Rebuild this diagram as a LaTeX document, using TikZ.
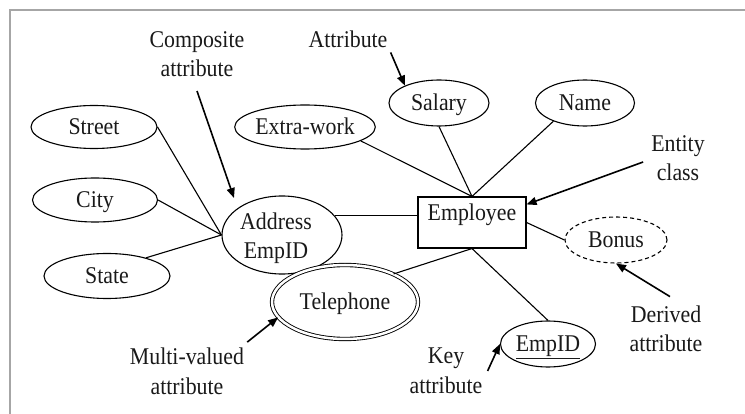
\documentclass[tikz,border=0pt]{standalone}
\usepackage{fontspec}
\setmainfont{Liberation Serif}[FakeStretch=0.91]
\usetikzlibrary{shapes.geometric,arrows.meta}
\begin{document}
\begin{tikzpicture}[x=1pt,y=-1pt,
  every node/.style={font=\fontsize{24}{29.5}\selectfont, text=black!90},
  attr/.style={ellipse, draw, line width=1.1pt, inner sep=0pt, text height=16pt, text depth=0pt},
  entity/.style={rectangle, draw, line width=1.1pt, inner sep=0pt},
  link/.style={line width=1.1pt},
  pointer/.style={line width=1.6pt, -{Triangle[length=10pt,width=8pt]}},
  note/.style={align=center, inner sep=0pt},
]
\useasboundingbox (0,0) rectangle (745,414);
% page frame (top and left edges)
\draw[black!35, line width=1.5pt] (10,414) -- (10,10) -- (745,10);

% attributes and entity
\node[attr, minimum width=126pt, minimum height=43pt] (street) at (94,127) {Street};
\node[attr, minimum width=125pt, minimum height=44pt] (city) at (95,200) {City};
\node[attr, minimum width=126pt, minimum height=45pt] (state) at (107,276) {State};
\node[attr, minimum width=120pt, minimum height=78pt] (addr) at (282,235) {};
\node[note] (addrtext) at (276,238) {Address\\EmpID};
\node[attr, minimum width=140pt, minimum height=44pt] (extra) at (305,127) {Extra-work};
\node[attr, minimum width=100pt, minimum height=46pt] (salary) at (439,103) {Salary};
\node[attr, minimum width=99pt, minimum height=46pt] (name) at (585,103) {Name};
\node[entity, minimum width=108pt, minimum height=51pt, text height=16pt, text depth=19pt] (emp) at (472,222.5) {Employee};
\node[attr, dash pattern=on 4pt off 3pt, minimum width=102pt, minimum height=46pt] (bonus) at (616,240) {Bonus};
\node[attr, double, double distance=2.5pt, line width=0.9pt, minimum width=146pt, minimum height=74pt] (tel) at (345,302) {Telephone};
\node[attr, minimum width=95pt, minimum height=46pt] (empid) at (548,344) {\underline{EmpID}};

% connectors
\draw[link] (street.east) -- (addr.west);
\draw[link] (city.east) -- (addr.west);
\draw[link] (state.25) -- (addr.west);
\draw[link] (addr.20) -- (addr.20 -| emp.west);
\draw[link] (extra.-14) -- (emp.north);
\draw[link] (salary.south) -- (emp.north);
\draw[link] (name.210) -- (emp.north);
\draw[link] (emp.east) -- (bonus.west);
\draw[link] (emp.south) -- (tel.30);
\draw[link] (emp.south) -- (empid.north);

% explanatory labels
\node[note] (complab) at (197,54) {Composite\\attribute};
\node[note, anchor=base] (attlab) at (348,48) {Attribute};
\node[note] (entlab) at (678,158) {Entity\\class};
\node[note] (derlab) at (666,329) {Derived\\attribute};
\node[note] (keylab) at (446,371) {Key\\attribute};
\node[note] (mvlab) at (187,371.5) {Multi-valued\\attribute};

% pointers from labels
\coordinate (comptip) at (234,198);
\draw[pointer] ([yshift=-14pt]complab.south) -- (comptip);
\draw[pointer] ([xshift=3pt,yshift=-4pt]attlab.south east) -- (salary.153);
\draw[pointer] ([xshift=-8pt,yshift=-4pt]entlab.west) -- ([yshift=-8pt]emp.north east);
\draw[pointer] ([xshift=4pt,yshift=9pt]derlab.north) -- (bonus.south);
\draw[pointer] ([xshift=5pt]keylab.east) -- (empid.west);
\draw[pointer] ([xshift=3pt,yshift=6pt]mvlab.north east) -- (tel.193);
\end{tikzpicture}
\end{document}
